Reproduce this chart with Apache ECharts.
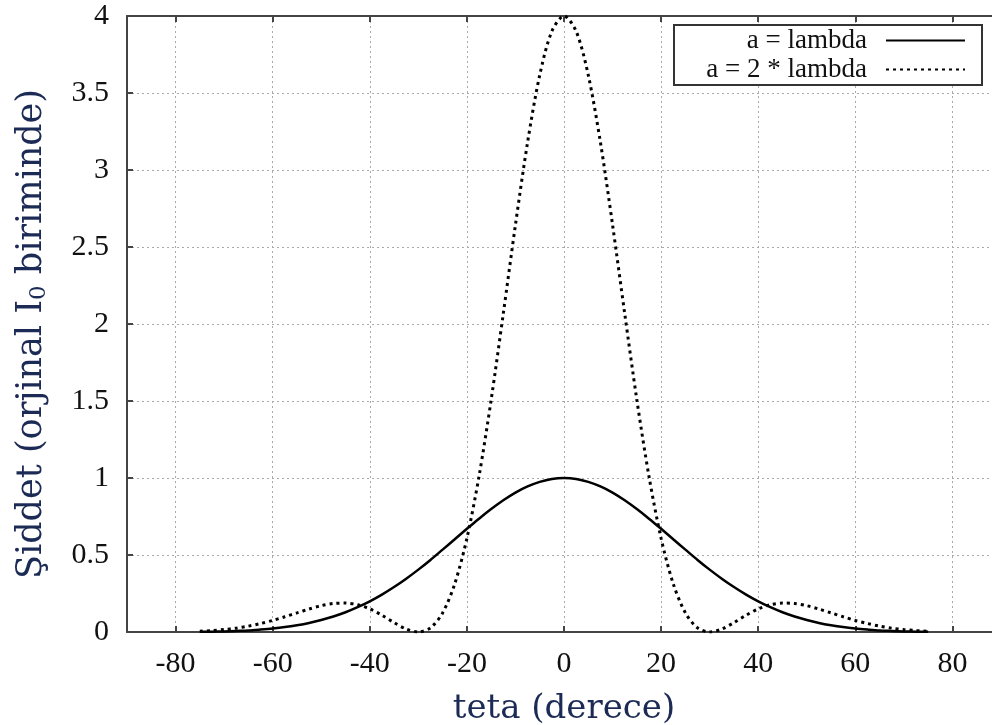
<!DOCTYPE html>
<html>
<head>
<meta charset="utf-8">
<script src="https://cdn.jsdelivr.net/npm/echarts@6/dist/echarts.min.js"></script>
<style>
html,body{margin:0;padding:0;background:#fff;}
#chart{width:992px;height:725px;}
</style>
</head>
<body>
<div id="chart"></div>
<script>
var thetas = [-75, -72.5, -70, -67.5, -65, -62.5, -60, -57.5, -55, -52.5, -50, -47.5, -45, -42.5, -40, -37.5, -35, -32.5, -30, -27.5, -25, -22.5, -20, -17.5, -15, -12.5, -10, -7.5, -5, -2.5,
  0, 2.5, 5, 7.5, 10, 12.5, 15, 17.5, 20, 22.5, 25, 27.5, 30, 32.5, 35, 37.5, 40, 42.5, 45, 47.5, 50, 52.5, 55, 57.5, 60, 62.5, 65, 67.5, 70, 72.5, 75];

var seriesNames = ['a = lambda', 'a = 2 * lambda'];

var lambdaValues = [0.001, 0.002, 0.004, 0.007, 0.010, 0.016, 0.023, 0.032, 0.044, 0.059, 0.078, 0.101, 0.128, 0.161, 0.199, 0.243, 0.292, 0.346, 0.405, 0.468, 0.535, 0.602, 0.670, 0.736, 0.798, 0.855, 0.905, 0.945, 0.975, 0.994,
  1.000, 0.994, 0.975, 0.945, 0.905, 0.855, 0.798, 0.736, 0.670, 0.602, 0.535, 0.468, 0.405, 0.346, 0.292, 0.243, 0.199, 0.161, 0.128, 0.101, 0.078, 0.059, 0.044, 0.032, 0.023, 0.016, 0.010, 0.007, 0.004, 0.002, 0.001];

var twoLambdaValues = [0.005, 0.009, 0.016, 0.025, 0.038, 0.055, 0.075, 0.099, 0.124, 0.149, 0.171, 0.185, 0.188, 0.177, 0.150, 0.109, 0.061, 0.019, 0.000, 0.027, 0.124, 0.313, 0.608, 1.011, 1.508, 2.068, 2.644, 3.180, 3.616, 3.901,
  4.000, 3.901, 3.616, 3.180, 2.644, 2.068, 1.508, 1.011, 0.608, 0.313, 0.124, 0.027, 0.000, 0.019, 0.061, 0.109, 0.150, 0.177, 0.188, 0.185, 0.171, 0.149, 0.124, 0.099, 0.075, 0.055, 0.038, 0.025, 0.016, 0.009, 0.005];

var xTitle = 'teta (derece)';
var yTitle = 'Şiddet (orjinal I{sub|0} biriminde)';

function pairs(xs, ys) {
  var out = [];
  for (var i = 0; i < xs.length; i++) out.push([xs[i], ys[i]]);
  return out;
}

var chart = echarts.init(document.getElementById('chart'), null, {renderer: 'canvas'});

var axisLineStyle = {color: '#444', width: 2};
var gridLineStyle = {color: '#aaa', width: 1, type: [2, 3]};
var tickFont = {fontFamily: 'Liberation Serif', fontSize: 30, color: '#111'};
var titleColor = '#1c2b55';

chart.setOption({
  animation: false,
  backgroundColor: '#fff',
  grid: {left: 127, top: 16, width: 874, height: 616, show: false, containLabel: false, outerBoundsMode: 'none'},
  legend: {
    right: 10,
    top: 25,
    orient: 'vertical',
    align: 'right',
    itemWidth: 79,
    itemHeight: 14,
    itemGap: 2,
    padding: [2, 16, 2, 19],
    borderColor: '#333',
    borderWidth: 2,
    backgroundColor: '#fff',
    data: seriesNames,
    itemStyle: {opacity: 0},
    textStyle: {
      fontFamily: 'Liberation Serif',
      fontSize: 27,
      color: '#111',
      width: 174,
      align: 'right',
      lineHeight: 27,
      padding: [0, 14, 0, 0]
    }
  },
  xAxis: [{
    type: 'value',
    min: -90,
    max: 90,
    splitNumber: 9,
    position: 'bottom',
    name: xTitle,
    nameLocation: 'middle',
    nameGap: 60,
    nameTextStyle: {fontFamily: 'DejaVu Serif', fontSize: 34, color: titleColor},
    axisLine: {show: true, onZero: false, lineStyle: axisLineStyle},
    axisTick: {show: true, inside: true, length: 6, lineStyle: axisLineStyle},
    axisLabel: Object.assign({margin: 17, showMinLabel: false, showMaxLabel: false}, tickFont),
    splitLine: {show: true, lineStyle: gridLineStyle}
  }, {
    type: 'value',
    min: -90,
    max: 90,
    splitNumber: 9,
    position: 'top',
    axisLine: {show: true, onZero: false, lineStyle: axisLineStyle},
    axisTick: {show: true, inside: true, length: 6, lineStyle: axisLineStyle},
    axisLabel: {show: false},
    splitLine: {show: false}
  }],
  yAxis: [{
    type: 'value',
    min: 0,
    max: 4,
    interval: 0.5,
    position: 'left',
    name: yTitle,
    nameLocation: 'middle',
    nameGap: 76,
    nameTextStyle: {
      fontFamily: 'DejaVu Serif', fontSize: 35, color: titleColor,
      padding: [0, 20, 0, 0],
      rich: {sub: {fontFamily: 'DejaVu Serif', fontSize: 23, color: titleColor, padding: [16, 0, 0, 0]}}
    },
    axisLine: {show: true, onZero: false, lineStyle: axisLineStyle},
    axisTick: {show: true, inside: true, length: 6, lineStyle: axisLineStyle},
    axisLabel: Object.assign({margin: 18}, tickFont),
    splitLine: {show: true, lineStyle: gridLineStyle}
  }],
  series: [{
    name: seriesNames[0],
    type: 'line',
    xAxisIndex: 0,
    data: pairs(thetas, lambdaValues),
    showSymbol: false,
    symbol: 'none',
    smooth: 0.3,
    lineStyle: {color: '#000', width: 2.5, type: 'solid'},
    itemStyle: {color: '#000'},
    z: 3
  }, {
    name: seriesNames[1],
    type: 'line',
    xAxisIndex: 0,
    data: pairs(thetas, twoLambdaValues),
    showSymbol: false,
    symbol: 'none',
    smooth: 0.3,
    lineStyle: {color: '#000', width: 3, type: [3, 4]},
    itemStyle: {color: '#000'},
    z: 3
  }]
});
</script>
</body>
</html>
